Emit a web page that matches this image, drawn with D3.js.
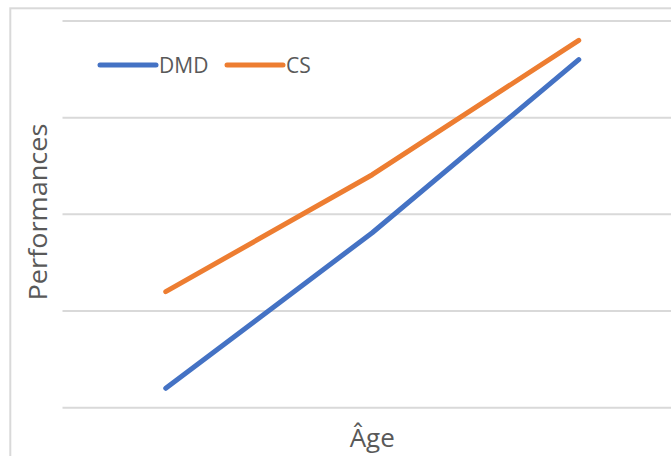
<!DOCTYPE html>
<html>

<head>
    <meta charset="UTF-8">
    <title>Performances / Âge</title>
    <script src="https://d3js.org/d3.v7.min.js"></script>
    <style>
        body { margin: 0; background: #fff; }
        text { font-family: "Open Sans", sans-serif; fill: #595959; }
    </style>
</head>

<body>
    <div id="chart"></div>
    <script type="text/javascript">
        const width = 671;
        const height = 456;

        // data (no tick labels are shown on the original chart)
        const categories = ["1", "2", "3"];
        const seriesNames = ["DMD", "CS"];
        const dmdValues = [0.20, 1.81, 3.60];
        const csValues = [1.20, 2.41, 3.80];
        const yTicks = [0, 1, 2, 3, 4];
        const colors = ["#4472C4", "#ED7D31"];

        const series = [
            { name: seriesNames[0], values: dmdValues, color: colors[0] },
            { name: seriesNames[1], values: csValues, color: colors[1] }
        ];

        const plot = { left: 62.5, right: 682, top: 21, bottom: 407.7 };

        const svg = d3.select("#chart")
            .append("svg")
            .attr("width", width)
            .attr("height", height);

        // outer chart border (runs past the right and bottom edge)
        svg.append("rect")
            .attr("x", 10.3)
            .attr("y", 8.3)
            .attr("width", 700)
            .attr("height", 480)
            .attr("fill", "none")
            .attr("stroke", "#d9d9d9")
            .attr("stroke-width", 2);

        const x = d3.scalePoint()
            .domain(categories)
            .range([plot.left, plot.right])
            .padding(0.5);

        const y = d3.scaleLinear()
            .domain([0, 4])
            .range([plot.bottom, plot.top]);

        // gridlines
        svg.append("g")
            .attr("class", "grid")
            .selectAll("line")
            .data(yTicks)
            .enter()
            .append("line")
            .attr("x1", plot.left)
            .attr("x2", plot.right)
            .attr("y1", d => y(d))
            .attr("y2", d => y(d))
            .attr("stroke", "#d9d9d9")
            .attr("stroke-width", 2);

        const line = d3.line()
            .x((d, i) => x(categories[i]))
            .y(d => y(d));

        svg.append("g")
            .selectAll("path")
            .data(series)
            .enter()
            .append("path")
            .attr("d", d => line(d.values))
            .attr("fill", "none")
            .attr("stroke", d => d.color)
            .attr("stroke-width", 5)
            .attr("stroke-linecap", "round")
            .attr("stroke-linejoin", "round");

        // legend
        const legendX = [100, 227];
        const legend = svg.append("g")
            .selectAll("g")
            .data(series)
            .enter()
            .append("g")
            .attr("transform", (d, i) => "translate(" + legendX[i] + ",65)");
        legend.append("line")
            .attr("x1", 0)
            .attr("x2", 56)
            .attr("stroke", d => d.color)
            .attr("stroke-width", 5)
            .attr("stroke-linecap", "round");
        legend.append("text")
            .attr("x", 59)
            .attr("y", 7.5)
            .attr("font-size", 21)
            .text(d => d.name);

        // axis titles
        svg.append("text")
            .attr("transform", "translate(47,212)rotate(-90)")
            .attr("text-anchor", "middle")
            .attr("font-size", 26)
            .attr("textLength", 177)
            .attr("lengthAdjust", "spacingAndGlyphs")
            .text("Performances");

        svg.append("text")
            .attr("x", x(categories[1]))
            .attr("y", 447)
            .attr("text-anchor", "middle")
            .attr("font-size", 26)
            .text("Âge");
    </script>
</body>

</html>
